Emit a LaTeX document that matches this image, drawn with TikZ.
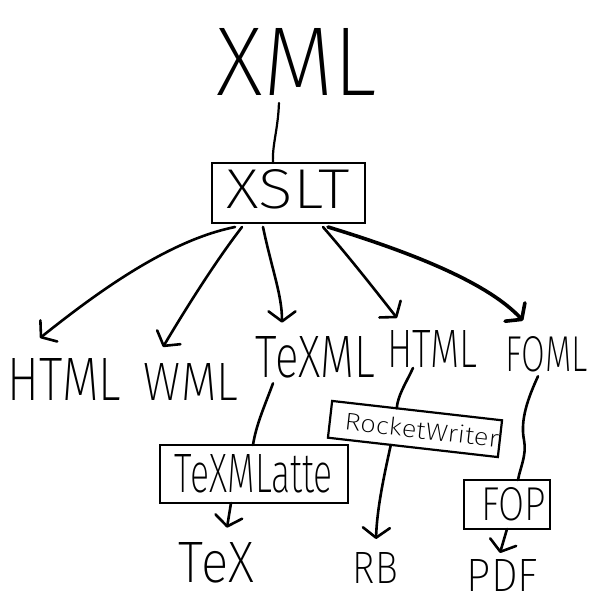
\documentclass[tikz,border=0pt]{standalone}
\usepackage{fontspec}
\usepackage{graphicx}
\newfontfamily\hand{Fira Sans}[UprightFont={* ExtraLight}]
\usetikzlibrary{arrows.meta,calc}
\newcommand\handtext[3]{\resizebox{#1pt}{#2pt}{\hand #3}}
\begin{document}
\begin{tikzpicture}[x=1pt,y=-1pt,
  lbl/.style={inner sep=0pt,outer sep=0pt},
  handbox/.style={draw,line width=2.6pt,inner sep=0pt,outer sep=0pt},
  conn/.style={line width=2.6pt,line cap=round},
  arr/.style={conn,-{Straight Barb[length=10pt,width=27pt,round]}},
]
\useasboundingbox[fill=white] (0,0) rectangle (600,600);

% labels
\node[lbl] (xml) at (297,61.5) {\handtext{160}{67}{XML}};
\node[handbox,minimum width=153pt,minimum height=60pt] (xslt) at (288.5,193)
  {\handtext{123}{39}{XSLT}\rule[-8pt]{0pt}{8pt}\hspace{5pt}};

\node[lbl] (htmll) at (64.5,379) {\handtext{113}{42}{HTML}};
\node[lbl] (wml) at (191,381.5) {\handtext{94}{37}{WML}};
\node[lbl] (texml) at (315.5,357.5) {\handtext{119}{41}{TeXML}};
\node[lbl] (htmlr) at (432,348.5) {\handtext{90}{37}{HTML}};
\node[lbl] (foml) at (547,354.5) {\handtext{82}{35}{FOML}};

\node[handbox,minimum width=188pt,minimum height=58pt] (texmlatte) at (254,474)
  {\handtext{158}{38}{TeXMLatte}\hspace{12pt}};
\node[handbox,line width=2.2pt,minimum width=171pt,minimum height=37pt,rotate=-6.5] (rocket) at (415,429)
  {\hspace{14pt}\handtext{155}{18}{RocketWriter}};
\node[handbox,minimum width=86pt,minimum height=49pt] (fop) at (507,504.5)
  {\hspace{13pt}\handtext{65}{33}{FOP}};

\node[lbl] (tex) at (216.5,563) {\handtext{75}{40}{TeX}};
\node[lbl] (rb) at (375.5,567.5) {\handtext{45}{31}{RB}};
\node[lbl] (pdf) at (502.5,575) {\handtext{71}{32}{PDF}};

% connectors
\draw[conn,line width=2.2pt] ($(xml.south west)+(62,8)$) .. controls (278,130) and (272,145) .. ($(xslt.north west)+(61,0)$);

\draw[arr] ($(xslt.south west)+(23,4)$) .. controls (170,240) and (100,290) .. ($(htmll.north west)+(32,-20)$);
\draw[arr] ($(xslt.south west)+(30,4)$) .. controls (215,262) and (185,310) .. ($(wml.north west)+(19,-16)$);
\draw[arr] ($(xslt.south west)+(51,4)$) .. controls (272,270) and (282,295) .. ($(texml.north west)+(26,-14)$);
\draw[arr] ($(xslt.south west)+(111,4)$) .. controls (350,258) and (375,290) .. ($(htmlr.north west)+(10,-12)$);
\draw[arr,line width=3.6pt] ($(xslt.south west)+(116,4)$) .. controls (420,255) and (490,285) .. ($(foml.north west)+(17,-16)$);

\draw[conn] ($(texml.south west)+(17,5)$) .. controls (265,405) and (256,425) .. ($(texmlatte.north west)+(93,0)$);
\draw[arr] ($(texmlatte.south west)+(71,0)$) -- ($(tex.north west)+(48,-15)$);

\draw[conn] ($(htmlr.south west)+(26,1)$) .. controls (405,385) and (398,395) .. ($(rocket.north west)!0.38!(rocket.north east)$);
\draw[arr] ($(rocket.south west)!0.37!(rocket.south east)$) .. controls (383,480) and (377,510) .. ($(rb.north west)+(23,-13)$);

\draw[conn] ($(foml.south west)+(32,4)$) .. controls (528,398) and (520,420) .. (524,440)
  .. controls (527,455) and (520,468) .. ($(fop.north west)+(54,0)$);
\draw[arr] ($(fop.south west)+(43,0)$) -- ($(pdf.north west)+(33,-6)$);
\end{tikzpicture}
\end{document}
